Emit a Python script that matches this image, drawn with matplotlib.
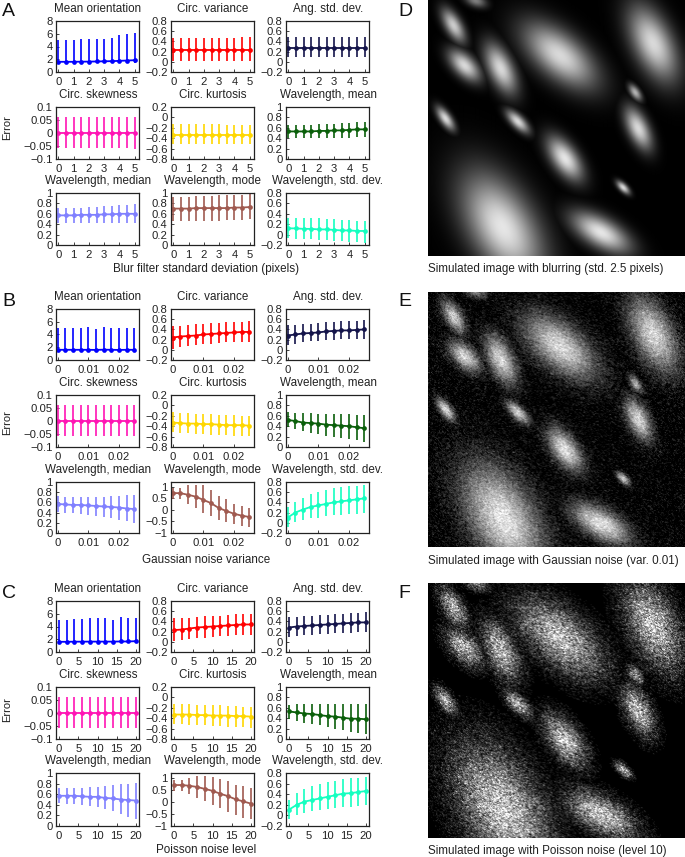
# Error vs. image degradation (blur, Gaussian noise, Poisson noise) with simulated images
import numpy as np
import matplotlib
matplotlib.use('Agg')
import matplotlib.pyplot as plt

plt.rcParams['font.family'] = ['Liberation Sans', 'DejaVu Sans']
plt.rcParams['axes.unicode_minus'] = True

W, H = 685, 857

titles = ['Mean orientation', 'Circ. variance', 'Ang. std. dev.',
          'Circ. skewness', 'Circ. kurtosis', 'Wavelength, mean',
          'Wavelength, median', 'Wavelength, mode', 'Wavelength, std. dev.']
colors = ['#0000ff', '#ff0000', '#14144a',
          '#ff14b4', '#ffd700', '#0a5f0a',
          '#8080ff', '#a05a50', '#14ffc0']

# x values of the measurements
blur_x = [0, 0.5, 1, 1.5, 2, 2.5, 3, 3.5, 4, 4.5, 5]
gauss_x = [0, 0.0025, 0.005, 0.0075, 0.01, 0.0125, 0.015, 0.0175, 0.02, 0.0225, 0.025]
poisson_x = [0, 2, 4, 6, 8, 10, 12, 14, 16, 18, 20]

# panel A, blur
a_mean = [
    [1.6, 1.6, 1.6, 1.62, 1.63, 1.65, 1.68, 1.7, 1.75, 1.8, 1.85],
    [.24, .24, .24, .24, .24, .24, .24, .24, .24, .24, .24],
    [.28, .28, .28, .28, .28, .28, .28, .28, .28, .28, .28],
    [0, 0, 0, 0, 0, 0, 0, 0, 0, 0, 0.001],
    [-.33, -.33, -.33, -.33, -.33, -.33, -.33, -.33, -.33, -.33, -.33],
    [.53, .53, .53, .53, .54, .54, .55, .55, .56, .57, .57],
    [.57, .57, .57, .58, .58, .58, .59, .59, .6, .6, .6],
    [.70, .70, .70, .71, .71, .71, .71, .71, .72, .72, .73],
    [.12, .12, .11, .11, .10, .10, .09, .08, .08, .07, .07],
]
a_low = [
    [1.4, 1.4, 1.4, 1.4, 1.4, 1.42, 1.42, 1.42, 1.42, 1.45, 1.45],
    [.01, .01, .01, .01, .01, .01, .01, .01, .01, .01, .01],
    [.09, .09, .09, .09, .09, .09, .09, .09, .1, .1, .1],
    [-.058, -.058, -.058, -.058, -.058, -.058, -.058, -.058, -.058, -.058, -.06],
    [-.52, -.52, -.52, -.52, -.52, -.52, -.52, -.52, -.52, -.52, -.52],
    [.41, .41, .41, .41, .41, .41, .41, .41, .41, .42, .42],
    [.43, .43, .43, .43, .43, .43, .43, .43, .43, .43, .43],
    [.46, .46, .46, .46, .47, .47, .47, .48, .49, .49, .50],
    [-.07, -.08, -.08, -.09, -.10, -.11, -.12, -.13, -.14, -.15, -.16],
]
a_high = [
    [5.0, 5.0, 5.0, 5.1, 5.1, 5.15, 5.25, 5.4, 5.75, 5.95, 6.1],
    [.46, .46, .46, .46, .47, .47, .47, .47, .47, .48, .48],
    [.48, .48, .48, .48, .48, .48, .48, .49, .49, .49, .49],
    [.06, .06, .06, .061, .061, .061, .061, .062, .062, .062, .063],
    [-.13, -.13, -.13, -.13, -.13, -.13, -.13, -.14, -.14, -.14, -.14],
    [.66, .66, .66, .66, .67, .68, .68, .69, .7, .71, .72],
    [.72, .72, .72, .72, .73, .74, .75, .75, .76, .77, .78],
    [.93, .93, .93, .94, .95, .95, .96, .96, .97, .97, .98],
    [.31, .31, .31, .31, .31, .30, .30, .29, .28, .27, .27],
]

# panel B, Gaussian noise
b_mean = [
    [1.6, 1.6, 1.6, 1.6, 1.6, 1.58, 1.62, 1.6, 1.58, 1.6, 1.6],
    [.24, .26, .27, .28, .30, .31, .32, .33, .34, .35, .35],
    [.28, .30, .32, .33, .34, .36, .37, .38, .38, .39, .40],
    [0, 0, 0, 0, 0, 0, 0, 0, 0, 0, 0],
    [-.33, -.34, -.35, -.35, -.36, -.36, -.37, -.38, -.38, -.38, -.39],
    [.52, .50, .47, .46, .45, .43, .42, .41, .40, .38, .36],
    [.57, .56, .55, .55, .54, .53, .52, .51, .50, .48, .47],
    [.72, .72, .65, .57, .43, .29, .08, -.05, -.17, -.25, -.31],
    [.10, .20, .26, .31, .34, .37, .40, .42, .44, .46, .48],
]
b_low = [
    [1.4, 1.4, 1.4, 1.4, 1.4, 1.4, 1.4, 1.4, 1.4, 1.4, 1.4],
    [.02, .05, .07, .09, .11, .12, .14, .15, .15, .16, .16],
    [.09, .12, .15, .17, .18, .19, .20, .21, .21, .22, .22],
    [-.058, -.058, -.058, -.058, -.058, -.058, -.058, -.058, -.058, -.058, -.058],
    [-.52, -.53, -.54, -.55, -.55, -.56, -.57, -.57, -.58, -.58, -.59],
    [.38, .34, .30, .27, .25, .22, .20, .18, .15, .13, .10],
    [.41, .40, .39, .38, .36, .34, .32, .29, .26, .23, .20],
    [.48, .48, .25, .08, -.12, -.25, -.43, -.52, -.62, -.70, -.72],
    [-.08, .01, .05, .09, .10, .13, .15, .16, .17, .18, .20],
]
b_high = [
    [5.0, 5.0, 5.0, 5.0, 5.1, 4.8, 5.25, 5.05, 4.95, 4.95, 5.0],
    [.46, .47, .49, .50, .51, .52, .53, .54, .55, .55, .56],
    [.48, .49, .50, .51, .53, .54, .55, .56, .56, .57, .58],
    [.06, .06, .06, .06, .06, .06, .06, .06, .06, .06, .06],
    [-.13, -.14, -.15, -.16, -.16, -.17, -.18, -.18, -.19, -.20, -.20],
    [.67, .66, .65, .65, .64, .64, .63, .63, .63, .62, .62],
    [.72, .71, .71, .71, .71, .71, .71, .72, .73, .74, .75],
    [.95, .95, 1.05, 1.05, 1.05, .85, .60, .45, .25, .15, .07],
    [.30, .40, .48, .56, .61, .64, .68, .71, .72, .73, .74],
]

# panel C, Poisson noise
c_mean = [
    [1.6, 1.6, 1.62, 1.62, 1.63, 1.63, 1.63, 1.63, 1.65, 1.65, 1.7],
    [.23, .24, .26, .28, .29, .30, .31, .32, .33, .34, .34],
    [.28, .30, .31, .32, .33, .34, .35, .36, .37, .38, .38],
    [0, 0, 0, 0, 0, 0, 0, 0, 0, 0, 0],
    [-.33, -.33, -.33, -.34, -.34, -.35, -.35, -.35, -.36, -.36, -.37],
    [.53, .51, .49, .48, .46, .44, .43, .41, .39, .39, .38],
    [.57, .57, .57, .56, .55, .55, .53, .52, .50, .49, .48],
    [.70, .70, .67, .62, .54, .46, .34, .24, .11, .02, -.07],
    [.11, .20, .26, .29, .32, .35, .38, .41, .42, .44, .46],
]
c_low = [
    [1.35, 1.35, 1.35, 1.35, 1.35, 1.35, 1.35, 1.35, 1.35, 1.35, 1.4],
    [.02, .04, .05, .07, .08, .10, .11, .12, .13, .13, .14],
    [.10, .12, .13, .14, .15, .16, .17, .18, .18, .19, .20],
    [-.056, -.056, -.056, -.056, -.056, -.056, -.056, -.056, -.056, -.056, -.056],
    [-.52, -.52, -.53, -.53, -.54, -.55, -.55, -.56, -.56, -.57, -.58],
    [.39, .35, .31, .28, .26, .23, .20, .18, .13, .11, .09],
    [.43, .42, .42, .40, .38, .35, .32, .28, .22, .17, .14],
    [.45, .45, .32, .18, .04, -.12, -.25, -.41, -.55, -.65, -.72],
    [-.07, .01, .05, .08, .10, .12, .14, .16, .16, .18, .20],
]
c_high = [
    [5.0, 5.0, 5.2, 5.2, 5.3, 5.4, 5.35, 5.05, 5.5, 5.4, 5.3],
    [.46, .46, .47, .49, .50, .50, .51, .52, .54, .55, .55],
    [.48, .49, .50, .51, .52, .53, .54, .55, .56, .57, .58],
    [.06, .06, .06, .06, .06, .06, .06, .06, .06, .06, .06],
    [-.13, -.13, -.13, -.14, -.15, -.15, -.15, -.16, -.17, -.18, -.19],
    [.66, .67, .68, .68, .68, .68, .68, .68, .68, .68, .68],
    [.72, .72, .72, .72, .73, .74, .75, .77, .79, .80, .82],
    [.93, .93, 1.0, 1.07, 1.07, 1.05, .95, .85, .72, .65, .58],
    [.30, .42, .49, .55, .59, .63, .65, .68, .70, .71, .72],
]

# y ranges and ticks of the nine panels
ylims = [(0, 8), (-.2, .8), (-.2, .8), (-.1, .1), (-.8, .2), (0, 1), (0, 1), (0, 1), (-.2, .8)]
yticks = [[0, 2, 4, 6, 8], [-.2, 0, .2, .4, .6, .8], [-.2, 0, .2, .4, .6, .8],
          [-.1, -.05, 0, .05, .1], [-.8, -.6, -.4, -.2, 0, .2], [0, .2, .4, .6, .8, 1],
          [0, .2, .4, .6, .8, 1], [0, .2, .4, .6, .8, 1], [-.2, 0, .2, .4, .6, .8]]
mode_noise_ylim = (-1, 1.2)
mode_noise_ticks = [-1, -.5, 0, .5, 1]

# bright blobs: centre x, centre y (pixels in the image),
# long and short radius (pixels), angle (degrees), brightness
blob_x = [25, 36, 72, 131, 224, 206, 209, 17, 89, 136, 194, 172, 74, 47]
blob_y = [25, 65, 68, 55, 43, 92, 128, 118, 121, 158, 187, 232, 227, 0]
blob_long = [18, 19, 26, 42, 39, 9, 22, 13, 14, 24, 8, 31, 58, 11]
blob_short = [8, 10, 12, 21, 19, 4.5, 10, 5.5, 6, 12, 3.8, 14, 31, 6]
blob_angle = [60, 45, 65, 40, 65, 55, 65, 55, 45, 55, 45, 30, 60, 20]
blob_amp = [.8, .85, .85, .85, .85, .7, .85, .85, .85, .9, .85, .9, .9, .5]


def axes_px(x0, y0, x1, y1):
    return fig.add_axes([x0 / W, 1 - y1 / H, (x1 - x0) / W, (y1 - y0) / H])


def fmt(v):
    s = f'{v:g}'
    if s.startswith('-'):
        s = '\u2212' + s[1:]
    return s


def put(x, y, s, **kw):
    fig.text(x / W, 1 - y / H, s, **kw)


def blob_image(n=256):
    yy, xx = np.mgrid[0:n, 0:n]
    img = np.zeros((n, n))
    for cx, cy, a, b, ang, amp in zip(blob_x, blob_y, blob_long, blob_short, blob_angle, blob_amp):
        t = np.deg2rad(ang)
        u = (xx - cx) * np.cos(t) + (yy - cy) * np.sin(t)
        v = -(xx - cx) * np.sin(t) + (yy - cy) * np.cos(t)
        img = np.maximum(img, amp * np.exp(-(u / a) ** 2 - (v / b) ** 2))
    return img


def soften(img):
    box = (img + np.roll(img, 1, 0) + np.roll(img, 1, 1) + np.roll(img, (1, 1), (0, 1))) / 4
    return .5 * img + .5 * box


fig = plt.figure(figsize=(W / 100, H / 100), dpi=100)

col_x = [(56, 139), (171, 254), (286, 369)]
groups = [
    (blur_x, a_mean, a_low, a_high, [(21, 72), (107, 159), (193, 245)],
     (-.15, 5.28), [0, 1, 2, 3, 4, 5], False),
    (gauss_x, b_mean, b_low, b_high, [(309, 360), (395, 447), (482, 533)],
     (-.0005, .0265), [0, .01, .02], True),
    (poisson_x, c_mean, c_low, c_high, [(601, 652), (687, 739), (773, 826)],
     (-.8, 20.8), [0, 5, 10, 15, 20], True),
]

for xs, means, lows, highs, rows, xlim, xticks, noisy in groups:
    for i in range(9):
        y0, y1 = rows[i // 3]
        x0, x1 = col_x[i % 3]
        ax = axes_px(x0, y0, x1, y1)
        m, lo, hi = np.array(means[i]), np.array(lows[i]), np.array(highs[i])
        ax.errorbar(xs, m, yerr=[m - lo, hi - m], color=colors[i], lw=1.3, elinewidth=1.2,
                    capsize=.8, capthick=.7, marker='o', ms=3.4, mew=0)
        yl, yt = ylims[i], yticks[i]
        if i == 7 and noisy:
            yl, yt = mode_noise_ylim, mode_noise_ticks
        ax.set_xlim(xlim)
        ax.set_ylim(yl)
        ax.set_xticks(xticks)
        ax.set_xticklabels([fmt(v) for v in xticks])
        ax.set_yticks(yt)
        ax.set_yticklabels([fmt(v) for v in yt])
        ax.tick_params(direction='in', length=2, width=.6, labelsize=8.1, pad=2.5, color='#222222',
                       labelcolor='#222222')
        ax.tick_params(axis='x', pad=3.8)
        for sp in ax.spines.values():
            sp.set_linewidth(.9)
            sp.set_color('#222222')
        put((x0 + x1) / 2 + .5, y0 - 12, titles[i], ha='center', va='center', fontsize=8.4, color='#222222')

for label, y in [('Blur filter standard deviation (pixels)', 269),
                 ('Gaussian noise variance', 560), ('Poisson noise level', 850)]:
    put(206, y, label, ha='center', va='center', fontsize=8.4, color='#222222')
for y in [128, 423, 710]:
    put(7, y, 'Error', rotation=90, ha='center', va='center', fontsize=8, color='#222222')
for s, x, y in [('A', 2, 11), ('B', 2, 301), ('C', 2, 593), ('D', 398, 11), ('E', 398, 301), ('F', 398, 593)]:
    put(x, y, s, ha='left', va='center', fontsize=14, color='#111111')

# The pictures are approximated from the blob list above. Only the grain comes from a
# seeded generator: it is image texture for panels E and F, no chart value depends on it.
rng = np.random.default_rng(10)
base = blob_image()
img_d = base
img_e = np.clip(soften(base + rng.normal(0, .1, base.shape)), 0, 1)
lifted = base ** .8 * .85
img_f = np.clip(soften(rng.poisson(lifted * 9) / 9), 0, 1)
img_f[base < .008] = 0

images = [(img_d, 0, 256, 'Simulated image with blurring (std. 2.5 pixels)', 269),
          (img_e, 292, 547, 'Simulated image with Gaussian noise (var. 0.01)', 561),
          (img_f, 583, 838, 'Simulated image with Poisson noise (level 10)', 851)]
for img, y0, y1, caption, cap_y in images:
    ax = axes_px(428, y0, 685, y1)
    ax.imshow(img, cmap='gray', vmin=0, vmax=1, aspect='auto', interpolation='bilinear')
    ax.axis('off')
    put(428, cap_y, caption, ha='left', va='center', fontsize=8.4, color='#222222')

fig.savefig('out.png', dpi=100)
